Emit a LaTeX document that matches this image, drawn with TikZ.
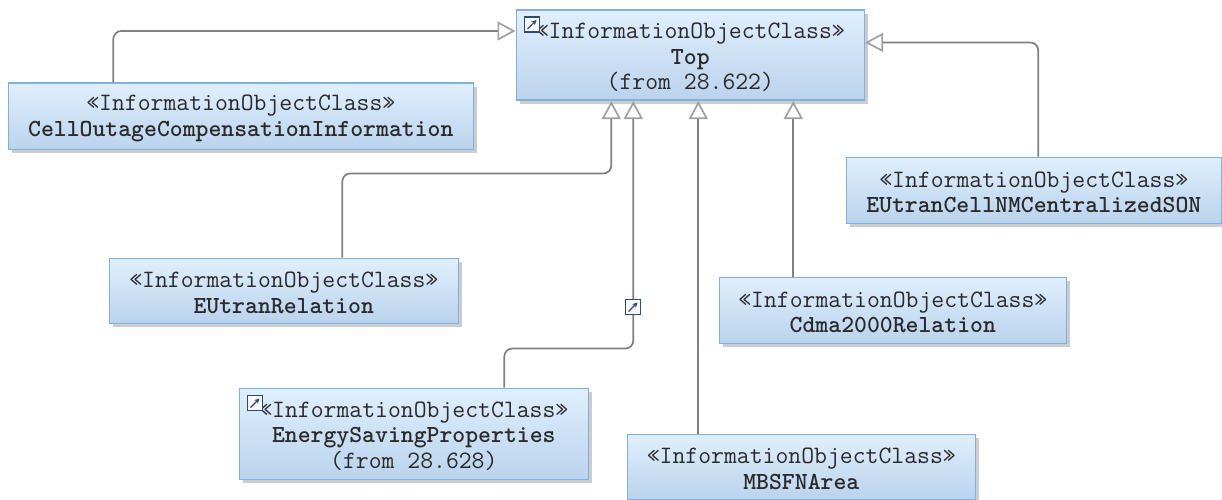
\documentclass[tikz,border=0pt]{standalone}
\usepackage{fontspec}
\usetikzlibrary{arrows.meta,shadows,calc}
\definecolor{boxedge}{HTML}{7FB0E0}
\definecolor{boxtop}{HTML}{E0EFFE}
\definecolor{boxbot}{HTML}{BAD3EC}
\definecolor{linegray}{HTML}{808080}
\definecolor{tipgray}{HTML}{A0A0A0}
\definecolor{txt}{HTML}{2A2A2A}
\definecolor{iconblue}{HTML}{2F4A7A}
\tikzset{
  classbox/.style={draw=boxedge,line width=1.6pt,top color=boxtop,bottom color=boxbot,
    inner sep=0pt,align=center,text=txt,anchor=north west,
    font=\ttfamily\fontsize{25}{25.6}\selectfont,
    drop shadow={shadow xshift=4pt,shadow yshift=-4pt,opacity=.2,fill=black}},
  gen/.style={draw=linegray,line width=1.7pt,rounded corners=8pt,
    -{Triangle[open,length=18pt,width=19pt,line width=1.7pt,color=tipgray]}},
  iconbox/.style={draw=iconblue,line width=1.3pt,minimum size=15pt,inner sep=0pt},
  iconarrow/.style={draw=iconblue,line width=1.3pt,-{Stealth[length=5pt,width=5pt]}},
}
\newcommand{\nm}[1]{{\fontsize{24.55}{25.6}\selectfont\bfseries #1}}
\newcommand{\st}{\rule{0pt}{20pt}«InformationObjectClass»}
\begin{document}
\begin{tikzpicture}[x=1pt,y=-1pt]
\useasboundingbox (0,0) rectangle (1222,500);
\node[classbox,minimum width=348pt,minimum height=90pt] (top) at (515.5,9.5)
  {\st\\\nm{Top}\\(from 28.622)};
\node[classbox,minimum width=465pt,minimum height=66pt] (cell) at (7.5,82.5)
  {\st\\\nm{CellOutageCompensationInformation}};
\node[classbox,minimum width=349pt,minimum height=65pt] (rel) at (108.5,257.5)
  {\st\\\nm{EUtranRelation}};
\node[classbox,minimum width=349pt,minimum height=91pt] (energy) at (238.5,387.5)
  {\st\\\nm{EnergySavingProperties}\\(from 28.628)};
\node[classbox,minimum width=348pt,minimum height=65pt] (mbsfn) at (626.5,433.5)
  {\st\\\nm{MBSFNArea}};
\node[classbox,minimum width=347pt,minimum height=66pt] (cdma) at (718.5,276.5)
  {\st\\\nm{Cdma2000Relation}};
\node[classbox,minimum width=375pt,minimum height=66pt] (son) at (845.5,156.5)
  {\st\\\nm{EUtranCellNMCentralizedSON}};
% connectors
\draw[gen] ([xshift=-127.5pt]cell.north) |- ([yshift=-21.5pt]top.north west);
\draw[gen] ([xshift=58.5pt]rel.north) -- ++(0,-84) -- ++(269,0) -- ([xshift=-79pt]top.south);
\draw[gen] ([xshift=90.5pt]energy.north) -- ++(0,-39) -- ++(129,0) -- ([xshift=-57pt]top.south);
\draw[gen] ([xshift=-103pt]mbsfn.north) -- ([xshift=8pt]top.south);
\draw[gen] ([xshift=-99.5pt]cdma.north) -- ([xshift=103pt]top.south);
\draw[gen] ([xshift=4.5pt]son.north) -- ++(0,-114) -- ([yshift=-33pt]top.north east);
% link icons
\node[iconbox,fill=white!70!boxtop] (icontop) at (532,24.5) {};
\draw[iconarrow] ([shift={(-4.5pt,-4.5pt)}]icontop.center) -- ([shift={(4.5pt,4.5pt)}]icontop.center);
\node[iconbox,fill=white!70!boxtop] (iconenergy) at (255,403) {};
\draw[iconarrow] ([shift={(-4.5pt,-4.5pt)}]iconenergy.center) -- ([shift={(4.5pt,4.5pt)}]iconenergy.center);
\node[iconbox,fill=white!70!boxtop] (iconline) at (633,307) {};
\draw[iconarrow] ([shift={(-4.5pt,-4.5pt)}]iconline.center) -- ([shift={(4.5pt,4.5pt)}]iconline.center);
\end{tikzpicture}
\end{document}
